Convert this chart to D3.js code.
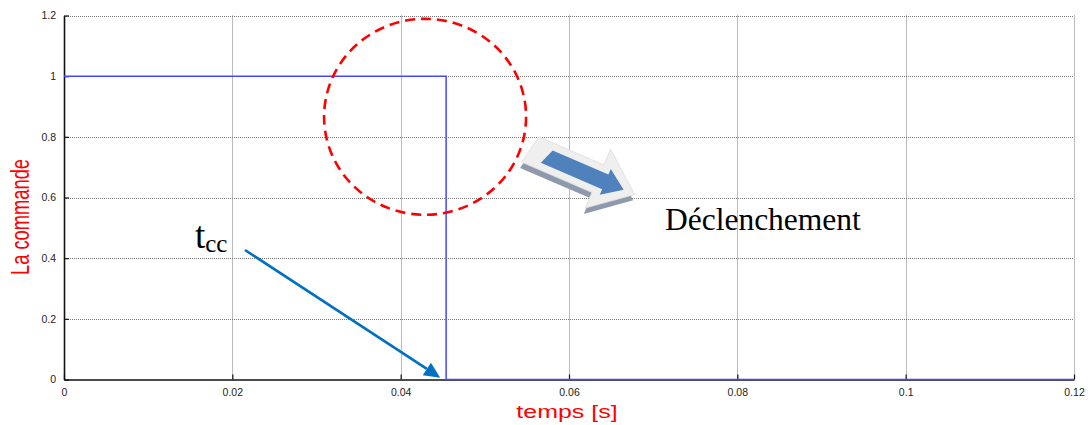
<!DOCTYPE html>
<html>
<head>
<meta charset="utf-8">
<script src="https://cdn.jsdelivr.net/npm/d3@7"></script>
<style>
  html, body { margin: 0; padding: 0; background: #fff; }
  svg { display: block; }
</style>
</head>
<body>
<svg id="chart" width="1091" height="425"></svg>
<script>
// Trip command signal: stays at 1, drops to 0 at the short-circuit clearing time
const time = [0, 0.0454, 0.0454, 0.12];
const command = [1, 1, 0, 0];

const xTicks = [0, 0.02, 0.04, 0.06, 0.08, 0.1, 0.12];
const yTicks = [0, 0.2, 0.4, 0.6, 0.8, 1, 1.2];
const xTickLabels = ["0", "0.02", "0.04", "0.06", "0.08", "0.1", "0.12"];
const yTickLabels = ["0", "0.2", "0.4", "0.6", "0.8", "1", "1.2"];

// Annotations, in data units
const zoneCenter = [0.0429, 0.866];   // dashed circle around the drop
const zoneRadius = [0.0120, 0.323];
const tccFrom = [0.0215, 0.427];      // t_cc pointer
const tccTo = [0.0447, 0.006];
const tripArrowFrom = [0.0555, 0.757];
const tripArrowTo = [0.0678, 0.610];
const tripLabelAt = [0.0714, 0.493];

const svg = d3.select("#chart");
const plotLeft = 64, plotRight = 1074, plotTop = 15.5, plotBottom = 379.5;

const x = d3.scaleLinear().domain([0, 0.12]).range([plotLeft, plotRight]);
const y = d3.scaleLinear().domain([0, 1.2]).range([plotBottom, plotTop]);

// Dotted grid
const grid = svg.append("g");
grid.selectAll("line.gx").data(xTicks.slice(1)).join("line")
  .attr("x1", d => Math.round(x(d)) + 0.5).attr("x2", d => Math.round(x(d)) + 0.5)
  .attr("y1", plotTop).attr("y2", plotBottom)
  .attr("stroke", "#777").attr("stroke-width", 1).attr("stroke-dasharray", "1,1");
grid.selectAll("line.gy").data(yTicks.slice(1)).join("line")
  .attr("y1", d => Math.round(y(d)) + 0.5).attr("y2", d => Math.round(y(d)) + 0.5)
  .attr("x1", plotLeft).attr("x2", plotRight)
  .attr("stroke", "#777").attr("stroke-width", 1).attr("stroke-dasharray", "1,1");

// Axes
const xAxis = d3.axisBottom(x).tickValues(xTicks)
  .tickFormat((d, i) => xTickLabels[i]).tickSizeInner(-5).tickSizeOuter(0).tickPadding(9);
const yAxis = d3.axisLeft(y).tickValues(yTicks)
  .tickFormat((d, i) => yTickLabels[i]).tickSizeInner(-5).tickSizeOuter(0).tickPadding(8);

const gx = svg.append("g").attr("transform", `translate(0,${plotBottom})`).call(xAxis);
const gy = svg.append("g").attr("transform", `translate(${plotLeft},0)`).call(yAxis);
[gx, gy].forEach(g => {
  g.select(".domain").attr("stroke", "#111").attr("stroke-width", 1.6);
  g.selectAll(".tick line").attr("stroke", "#111").attr("stroke-width", 1.2);
  g.selectAll(".tick text").attr("fill", "#222")
    .attr("font-family", "Liberation Sans, Arial, sans-serif").attr("font-size", 10.5);
});

// Signal
const line = d3.line().x((d, i) => x(time[i])).y(d => y(d));
svg.append("path").datum(command)
  .attr("d", line)
  .attr("fill", "none")
  .attr("stroke", "#4646ff")
  .attr("stroke-width", 1.5);

// Axis titles
svg.append("text")
  .attr("transform", "translate(567,418) scale(1.35,1)")
  .attr("text-anchor", "middle")
  .attr("font-family", "Liberation Sans, Arial, sans-serif")
  .attr("font-size", 18.5).attr("fill", "#ff0000")
  .text("temps [s]");

svg.append("text")
  .attr("transform", "translate(29,217) rotate(-90)")
  .attr("text-anchor", "middle")
  .attr("font-family", "Liberation Sans, Arial, sans-serif")
  .attr("font-size", 25).attr("fill", "#ff0000")
  .attr("textLength", 116).attr("lengthAdjust", "spacingAndGlyphs")
  .text("La commande");

// Dashed circle around the trip instant
svg.append("ellipse")
  .attr("cx", x(zoneCenter[0])).attr("cy", y(zoneCenter[1]))
  .attr("rx", x(zoneRadius[0]) - x(0)).attr("ry", y(0) - y(zoneRadius[1]))
  .attr("fill", "none").attr("stroke", "#ff0000")
  .attr("stroke-width", 2.6).attr("stroke-dasharray", "10,6");

// Block arrow towards the trip label
const ax0 = x(tripArrowFrom[0]), ay0 = y(tripArrowFrom[1]);
const ax1 = x(tripArrowTo[0]), ay1 = y(tripArrowTo[1]);
const ang = Math.atan2(ay1 - ay0, ax1 - ax0) * 180 / Math.PI;
const len = Math.hypot(ax1 - ax0, ay1 - ay0);
const block = svg.append("g").attr("transform", `translate(${ax0},${ay0}) rotate(${ang})`);
const arrowShape = (x0, L, hw, headW, headL) => {
  const p = d3.path();
  p.moveTo(x0 + 6, -hw);
  p.lineTo(L - headL, -hw);
  p.lineTo(L - headL, -headW);
  p.lineTo(L, 0);
  p.lineTo(L - headL, headW);
  p.lineTo(L - headL, hw);
  p.lineTo(x0, hw);
  p.closePath();
  return p.toString();
};
block.append("path").attr("d", arrowShape(-4, len, 15, 32, 40))
  .attr("transform", "translate(1,6)").attr("fill", "#8e9aac");
block.append("path").attr("d", arrowShape(-4, len, 15, 32, 40))
  .attr("fill", "#efefef").attr("stroke", "#e0e0e0").attr("stroke-width", 0.8);
block.append("path").attr("d", arrowShape(14, len - 12, 8, 14, 20))
  .attr("fill", "#4f81bd");

svg.append("text")
  .attr("x", x(tripLabelAt[0])).attr("y", y(tripLabelAt[1]))
  .attr("font-family", "Liberation Serif, Times New Roman, serif")
  .attr("font-size", 31.5).attr("fill", "#000")
  .text("Déclenchement");

// t_cc pointer
const tx0 = x(tccFrom[0]), ty0 = y(tccFrom[1]);
const tx1 = x(tccTo[0]), ty1 = y(tccTo[1]);
const tAng = Math.atan2(ty1 - ty0, tx1 - tx0);
const headLen = 16, headHalf = 7.5;
const bx = tx1 - headLen * Math.cos(tAng), by = ty1 - headLen * Math.sin(tAng);
svg.append("line")
  .attr("x1", tx0).attr("y1", ty0).attr("x2", bx).attr("y2", by)
  .attr("stroke", "#0070c0").attr("stroke-width", 2.6);
svg.append("path")
  .attr("d", d3.line()([
    [tx1, ty1],
    [bx + headHalf * Math.sin(tAng), by - headHalf * Math.cos(tAng)],
    [bx - headHalf * Math.sin(tAng), by + headHalf * Math.cos(tAng)]
  ]) + "Z")
  .attr("fill", "#0070c0");

const tcc = svg.append("text")
  .attr("x", tx0 - 50).attr("y", ty0 - 2)
  .attr("font-family", "Liberation Serif, Times New Roman, serif")
  .attr("fill", "#000");
tcc.append("tspan").attr("font-size", 37).text("t");
tcc.append("tspan").attr("font-size", 25).attr("dy", 4).text("cc");
</script>
</body>
</html>
